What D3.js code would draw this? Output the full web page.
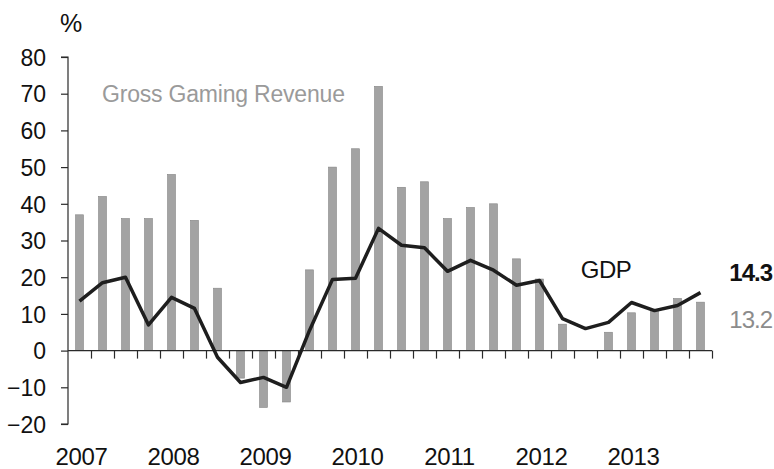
<!DOCTYPE html>
<html>
<head>
<meta charset="utf-8">
<script src="https://cdn.jsdelivr.net/npm/d3@7"></script>
<style>
  html, body { margin: 0; padding: 0; background: #fff; }
  text { font-family: "Liberation Sans", Arial, sans-serif; }
</style>
</head>
<body>
<svg id="chart" width="774" height="469"></svg>
<script>
// Quarters 2007Q1 .. 2013Q4
const years = ["2007", "2008", "2009", "2010", "2011", "2012", "2013"];
const quarters = years.flatMap(y => ["Q1", "Q2", "Q3", "Q4"].map(q => y + q));

// Gross Gaming Revenue, % y/y (bars)
const ggr = [37, 42, 36, 36, 48, 35.5, 17, -7.5,
             -15.5, -14, 22, 50, 55, 72, 44.5, 46,
             36, 39, 40, 25, 19.5, 7.2, 0, 5,
             10.3, 11, 14.2, 13.2];

// GDP, % y/y (line)
const gdp = [13.5, 18.5, 20, 7, 14.5, 11.5, -1.8, -8.7,
             -7.3, -10, 5.5, 19.4, 19.7, 33.3, 28.7, 28,
             21.6, 24.6, 21.9, 17.8, 19.1, 8.7, 6, 7.7,
             13.1, 10.9, 12.3, 15.8];

const yTicks = [-20, -10, 0, 10, 20, 30, 40, 50, 60, 70, 80];

const svg = d3.select("#chart");

const x = d3.scaleBand().domain(quarters).range([68, 712]);
const xLin = d3.scaleLinear().domain([0, quarters.length]).range([68, 712]);
const y = d3.scaleLinear().domain([-20, 80]).range([424, 57]);

const ink = "#2a2a2a";

// Bars
const barW = 8;
svg.append("g").selectAll("rect").data(ggr).join("rect")
  .attr("x", (d, i) => x(quarters[i]) + x.bandwidth() / 2 - barW / 2)
  .attr("y", d => y(Math.max(0, d)))
  .attr("width", barW)
  .attr("height", d => Math.abs(y(d) - y(0)))
  .attr("fill", "#a3a3a3")
  .attr("stroke", "#858585")
  .attr("stroke-width", 0.6);

// Y axis
const yAxis = svg.append("g")
  .attr("transform", `translate(68,0)`)
  .call(d3.axisLeft(y).tickValues(yTicks).tickSize(7).tickPadding(15).tickFormat(d3.format("d")));
yAxis.select(".domain").attr("stroke", ink).attr("stroke-width", 1.2).attr("d", `M-7,${y(80)}H0V${y(-20)}H-7`);
yAxis.selectAll(".tick line").attr("stroke", ink).attr("stroke-width", 1.2);
yAxis.selectAll(".tick text")
  .attr("fill", "#111")
  .style("font-size", "23px")
  .attr("dy", "0.36em");

// X axis at zero with quarter ticks
const xAxis = svg.append("g")
  .attr("transform", `translate(0,${y(0)})`)
  .call(d3.axisBottom(xLin).tickValues(d3.range(1, quarters.length + 1)).tickSize(8).tickFormat(""));
xAxis.select(".domain").attr("stroke", ink).attr("stroke-width", 1.2).attr("d", `M68,0H712`);
xAxis.selectAll(".tick line").attr("stroke", ink).attr("stroke-width", 1.2);

// Year labels
svg.append("g").selectAll("text").data(years).join("text")
  .attr("x", d => x(d + "Q1") + x.bandwidth() / 2 + 2)
  .attr("y", 465)
  .attr("text-anchor", "middle")
  .attr("fill", "#111")
  .style("font-size", "24px")
  .style("letter-spacing", "-0.3px")
  .text(d => d);

// GDP line
const line = d3.line()
  .x((d, i) => x(quarters[i]) + x.bandwidth() / 2)
  .y(d => y(d));
svg.append("path")
  .datum(gdp)
  .attr("d", line)
  .attr("fill", "none")
  .attr("stroke", "#1e1e1e")
  .attr("stroke-width", 3.5)
  .attr("stroke-linejoin", "round");

// Labels
svg.append("text").attr("x", 71).attr("y", 32).attr("text-anchor", "middle")
  .attr("fill", "#111").style("font-size", "25px").text("%");

svg.append("text").attr("x", 102).attr("y", 102)
  .attr("fill", "#9a9a9a").style("font-size", "23px").style("letter-spacing", "-0.2px")
  .text("Gross Gaming Revenue");

svg.append("text").attr("x", 606).attr("y", 278).attr("text-anchor", "middle")
  .attr("fill", "#111").style("font-size", "24px").style("letter-spacing", "-0.5px")
  .text("GDP");

svg.append("text").attr("x", 772).attr("y", 281).attr("text-anchor", "end")
  .attr("fill", "#111").style("font-size", "24px").style("font-weight", "bold").style("letter-spacing", "-1px")
  .text("14.3");

svg.append("text").attr("x", 772).attr("y", 328).attr("text-anchor", "end")
  .attr("fill", "#8c8c8c").style("font-size", "24px").style("letter-spacing", "-1px")
  .text("13.2");
</script>
</body>
</html>
